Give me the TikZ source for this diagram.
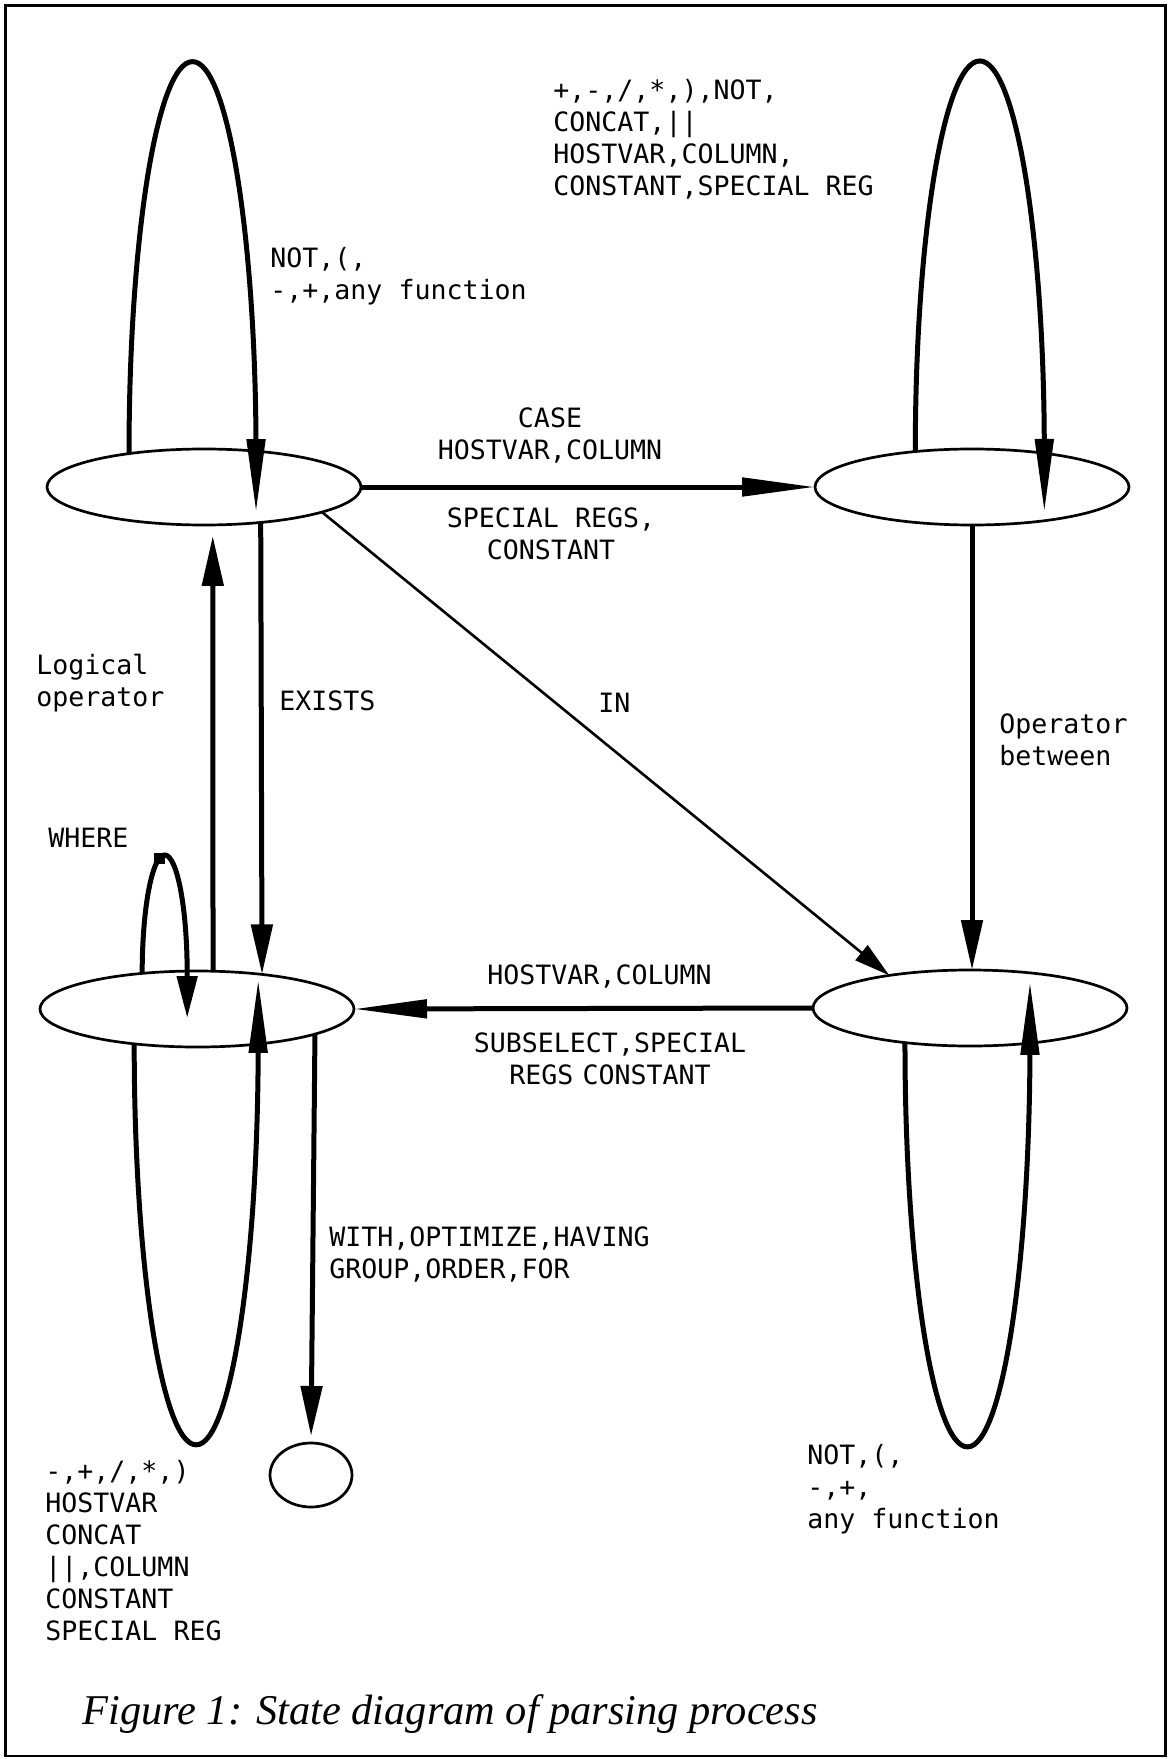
\documentclass[tikz,border=0pt]{standalone}
\usepackage{fontspec}
\setmainfont{Liberation Serif}
\newfontfamily\labelfont{DejaVu Sans Mono}
\usetikzlibrary{arrows.meta,shapes.geometric,calc}

\tikzset{
  stnode/.style={draw, ellipse, line width=1.35pt, minimum width=157pt,
    minimum height=38pt, inner sep=0pt, outer sep=0pt},
  endnode/.style={stnode, minimum width=41pt, minimum height=32pt},
  edge/.style={line width=2.5pt},
  thinedge/.style={line width=1.3pt},
  longtip/.tip={Triangle[length=36.5pt,width=9pt]},
  shorttip/.tip={Triangle[length=25pt,width=10.5pt]},
  intip/.tip={Triangle[length=18pt,width=9.5pt]},
  wheretip/.tip={Triangle[length=21pt,width=10pt]},
  lbl/.style={font=\labelfont\fontsize{13.3pt}{16pt}\selectfont,
    inner sep=0pt, align=left, anchor=north west},
  clbl/.style={lbl, align=center, anchor=north},
}

\begin{document}
\begin{tikzpicture}[x=0.5pt,y=-0.5pt]
\useasboundingbox (0,0) rectangle (1168,1759);
\draw[line width=1.25pt] (5.5,5.5) rectangle (1165.5,1756);

% states
\node[stnode] (A) at (204,487) {};
\node[stnode] (B) at (972,487) {};
\node[stnode] (C) at (197,1009) {};
\node[stnode] (D) at (970,1008) {};
\node[endnode] (E) at (311,1475) {};

% transitions between states
\draw[edge,-{longtip}] (A.east) -- (B.west);
\draw[edge,-{shorttip}] (B.south) -- (B.south |- D.north);
\draw[edge,-{longtip}] (D.west) -- (C.east);
\draw[thinedge,-{intip}] (A.-12.9) -- (D.158.4);
\draw[edge,-{shorttip}] (A.-32.4) -- (C.28.9);
\draw[edge,-{shorttip},shorten >=5.5pt] (C.67.7) -- (A.-77.4);
\draw[edge,-{shorttip},shorten >=3.5pt] (C.-12.9) -- (E.north);

% self loops
\draw[edge,-{longtip}] (A.156) arc[start angle=180,end angle=360,x radius=63.5,y radius=392] -- ++(0,58.5);
\draw[edge,-{longtip}] (B.148.2) arc[start angle=180,end angle=360,x radius=64.5,y radius=390.6] -- ++(0,60.4);
\draw[edge,-{longtip}] (C.209.4) arc[start angle=180,end angle=0,x radius=62,y radius=401] -- ++(0,-64);
\draw[edge,-{longtip}] (D.208.5) arc[start angle=180,end angle=0,x radius=62.5,y radius=404.3] -- ++(0,-60.7);
\draw[edge,-{wheretip}] (C.147.1) arc[start angle=180,end angle=360,x radius=22.5,y radius=118.4] -- ++(0,44.6);
\fill (154,853) rectangle (165,864);

% labels
\node[lbl] (topops) at (553,78.5) {+,-,/,*,),NOT,\\CONCAT,||\\HOSTVAR,COLUMN,\\CONSTANT,SPECIAL REG};
\node[lbl] (aloop) at (270,246.5) {NOT,(,\\-,+,any function};
\node[clbl] (abup) at (550,407.5) {CASE\\HOSTVAR,COLUMN};
\node[clbl] (abdown) at (551,507.5) {SPECIAL REGS,\\CONSTANT};
\node[lbl] (logop) at (36,653.5) {Logical\\operator};
\node[lbl] (exists) at (279,690.5) {EXISTS};
\node[lbl] (inlbl) at (598,692.5) {IN};
\node[lbl] (opbtw) at (999,713.5) {Operator\\between};
\node[lbl] (where) at (48,827.5) {WHERE};
\node[lbl] (dcup) at (487,964.5) {HOSTVAR,COLUMN};
\node[clbl] (dcdown) at (610,1032.5) {SUBSELECT,SPECIAL\\REGS\hspace{0.35em}CONSTANT};
\node[lbl] (cexit) at (329,1226.5) {WITH,OPTIMIZE,HAVING\\GROUP,ORDER,FOR};
\node[lbl] (cloop) at (45,1459.5) {-,+,/,*,)\\HOSTVAR\\CONCAT\\||,COLUMN\\CONSTANT\\SPECIAL REG};
\node[lbl] (dloop) at (807,1443.5) {NOT,(,\\-,+,\\any function};
\node[font=\itshape\fontsize{21.2pt}{24pt}\selectfont, inner sep=0pt, anchor=base west] (caption) at (82,1724) {Figure 1: State diagram of parsing process};
\end{tikzpicture}
\end{document}
